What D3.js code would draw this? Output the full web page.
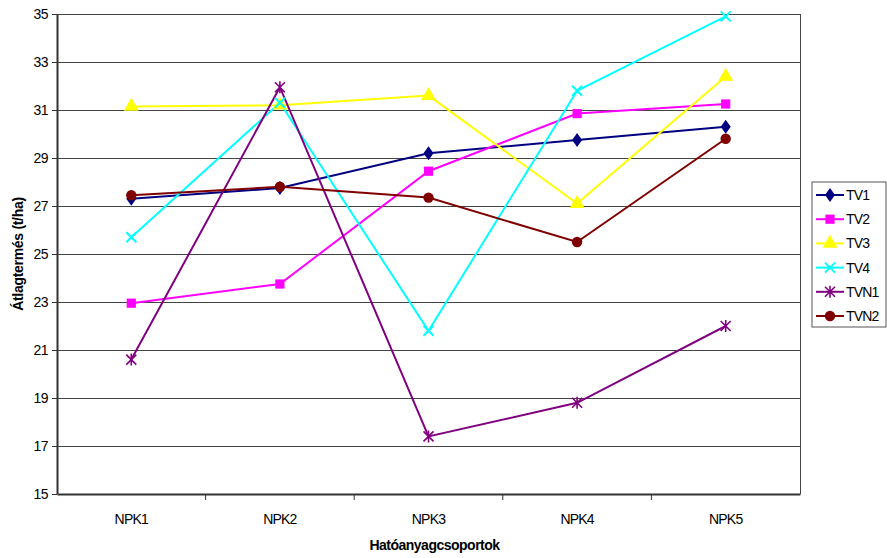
<!DOCTYPE html>
<html>
<head>
<meta charset="utf-8">
<script src="https://cdn.jsdelivr.net/npm/d3@7"></script>
<style>
  body { margin: 0; background: #fff; }
  text { font-family: "Liberation Sans", Arial, sans-serif; }
</style>
</head>
<body>
<div id="chart"></div>
<script>
// adatok
var categories = ["NPK1", "NPK2", "NPK3", "NPK4", "NPK5"];
var seriesNames = ["TV1", "TV2", "TV3", "TV4", "TVN1", "TVN2"];
var tv1  = [27.3, 27.75, 29.2, 29.75, 30.3];
var tv2  = [22.95, 23.75, 28.45, 30.85, 31.25];
var tv3  = [31.15, 31.2, 31.6, 27.1, 32.4];
var tv4  = [25.7, 31.3, 21.8, 31.8, 34.9];
var tvn1 = [20.6, 31.95, 17.4, 18.8, 22.0];
var tvn2 = [27.45, 27.8, 27.35, 25.5, 29.8];
var yTicks = [15, 17, 19, 21, 23, 25, 27, 29, 31, 33, 35];

var colors = ["#000080", "#ff00ff", "#ffff00", "#00ffff", "#800080", "#800000"];
var symbols = ["diamond", "square", "triangle", "x", "star", "circle"];
var allValues = [tv1, tv2, tv3, tv4, tvn1, tvn2];

var series = seriesNames.map(function(name, i) {
  return { name: name, values: allValues[i], color: colors[i], symbol: symbols[i] };
});

var W = 887, H = 558;
var margin = { top: 14, right: 87, bottom: 64, left: 57 },
    width = W - margin.left - margin.right,
    height = H - margin.top - margin.bottom;

var svg = d3.select("#chart").append("svg")
    .attr("width", W)
    .attr("height", H);

var g = svg.append("g")
    .attr("transform", "translate(" + margin.left + "," + margin.top + ")");

var x = d3.scaleBand().domain(categories).range([0, width]);
var y = d3.scaleLinear().domain([15, 35]).range([height, 0]);

// rácsvonalak
g.selectAll(".grid")
    .data(yTicks.slice(1))
    .enter().append("line")
    .attr("x1", 0).attr("x2", width)
    .attr("y1", function(d) { return y(d); })
    .attr("y2", function(d) { return y(d); })
    .attr("stroke", "#444")
    .attr("stroke-width", 1)
    .attr("shape-rendering", "crispEdges");

// jobb oldali keret
g.append("line")
    .attr("x1", width).attr("x2", width)
    .attr("y1", 0).attr("y2", height)
    .attr("stroke", "#444")
    .attr("shape-rendering", "crispEdges");

// y tengely
var yAxis = g.append("g")
    .call(d3.axisLeft(y).tickValues(yTicks).tickSize(5).tickSizeOuter(0));
yAxis.select(".domain").attr("stroke", "#333").attr("stroke-width", 2);
yAxis.selectAll(".tick line").attr("stroke", "#333");
yAxis.selectAll("text").attr("font-size", 14).attr("fill", "#000")
    .attr("letter-spacing", -0.5).attr("dx", -1);

// x tengely
var xAxis = g.append("g")
    .attr("transform", "translate(0," + height + ")")
    .call(d3.axisBottom(x).tickSize(0));
xAxis.select(".domain").attr("stroke", "#333").attr("stroke-width", 2);
xAxis.selectAll("text").attr("font-size", 14).attr("fill", "#000")
    .attr("letter-spacing", -0.8).attr("dy", "1.9em");
xAxis.selectAll(".sep")
    .data(categories.slice(1))
    .enter().append("line")
    .attr("x1", function(d) { return x(d); })
    .attr("x2", function(d) { return x(d); })
    .attr("y1", 0).attr("y2", 6)
    .attr("stroke", "#333");

// vonalak
var line = d3.line()
    .x(function(d, i) { return x(categories[i]) + x.bandwidth() / 2; })
    .y(function(d) { return y(d); });

function drawMarker(sel, s) {
  if (s.symbol === "x") {
    sel.append("path")
      .attr("d", "M-5,-5L5,5M-5,5L5,-5")
      .attr("fill", "none").attr("stroke", s.color).attr("stroke-width", 2);
  } else if (s.symbol === "star") {
    sel.append("path")
      .attr("d", "M-5,-5L5,5M-5,5L5,-5M0,-6L0,6")
      .attr("fill", "none").attr("stroke", s.color).attr("stroke-width", 1.6);
  } else if (s.symbol === "diamond") {
    sel.append("path")
      .attr("d", "M0,-7L5,0L0,7L-5,0Z")
      .attr("fill", s.color);
  } else {
    var t = { square: d3.symbolSquare, triangle: d3.symbolTriangle, circle: d3.symbolCircle }[s.symbol];
    var sz = { square: 85, triangle: 95, circle: 85 }[s.symbol];
    sel.append("path")
      .attr("d", d3.symbol().type(t).size(sz)())
      .attr("fill", s.color);
  }
}

series.forEach(function(s) {
  g.append("path")
    .datum(s.values)
    .attr("d", line)
    .attr("fill", "none")
    .attr("stroke", s.color)
    .attr("stroke-width", 2);
});

series.forEach(function(s) {
  s.values.forEach(function(v, i) {
    var m = g.append("g")
      .attr("transform", "translate(" + (x(categories[i]) + x.bandwidth() / 2) + "," + y(v) + ")");
    drawMarker(m, s);
  });
});

// tengelycímek
svg.append("text")
    .attr("x", margin.left + width / 2 + 6)
    .attr("y", 550)
    .attr("text-anchor", "middle")
    .attr("font-size", 14)
    .attr("font-weight", "bold")
    .attr("letter-spacing", -0.5)
    .text("Hatóanyagcsoportok");

svg.append("text")
    .attr("transform", "translate(23," + (margin.top + height / 2) + ") rotate(-90)")
    .attr("text-anchor", "middle")
    .attr("font-size", 14)
    .attr("font-weight", "bold")
    .attr("letter-spacing", -0.3)
    .text("Átlagtermés (t/ha)");

// jelmagyarázat
var legend = svg.append("g").attr("transform", "translate(812,182)");
legend.append("rect")
    .attr("width", 74).attr("height", 145)
    .attr("fill", "#fff").attr("stroke", "#555");

var item = legend.selectAll(".item")
    .data(series)
    .enter().append("g")
    .attr("transform", function(d, i) { return "translate(0," + (13 + i * 24.2) + ")"; });

item.append("line")
    .attr("x1", 4).attr("x2", 32)
    .attr("stroke", function(d) { return d.color; })
    .attr("stroke-width", 2);
item.each(function(d) {
  var m = d3.select(this).append("g").attr("transform", "translate(18,0)");
  drawMarker(m, d);
});
item.append("text")
    .attr("x", 34).attr("y", 5)
    .attr("font-size", 14)
    .attr("letter-spacing", -0.8)
    .text(function(d) { return d.name; });
</script>
</body>
</html>
